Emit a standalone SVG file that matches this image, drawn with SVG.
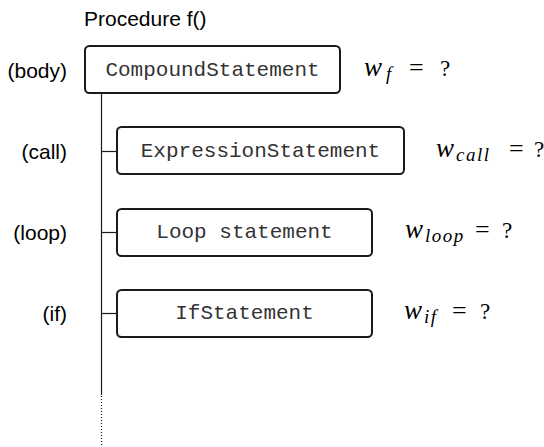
<svg xmlns="http://www.w3.org/2000/svg" width="544" height="447" viewBox="0 0 544 447">
  <style>
    .box { fill: #ffffff; stroke: #1a1a1a; stroke-width: 2; }
    .code { font-family: "Liberation Mono", "Courier New", monospace; font-size: 21px; fill: #333333; text-anchor: middle; }
    .role { font-family: "Liberation Sans", Arial, sans-serif; font-size: 21px; fill: #000000; text-anchor: end; }
    .title { font-family: "Liberation Sans", Arial, sans-serif; font-size: 21px; fill: #000000; }
    .w { font-family: "Liberation Serif", "Times New Roman", serif; font-style: italic; font-size: 27px; fill: #000000; }
    .sub { font-family: "Liberation Serif", "Times New Roman", serif; font-style: italic; font-size: 19px; letter-spacing: 1.5px; fill: #000000; }
    .eq { font-family: "Liberation Serif", "Times New Roman", serif; font-size: 26px; fill: #000000; }
    .q { font-family: "Liberation Serif", "Times New Roman", serif; font-size: 23px; fill: #000000; }
    .wire { stroke: #1a1a1a; stroke-width: 1.2; fill: none; }
    .dots { stroke: #1a1a1a; stroke-width: 1.2; stroke-dasharray: 1 2; fill: none; }
  </style>

  <text class="title" x="84" y="26">Procedure f()</text>

  <!-- tree spine and branches -->
  <g id="connectors">
    <line class="wire" x1="101.5" y1="93" x2="101.5" y2="395"/>
    <line class="dots" x1="101.5" y1="396" x2="101.5" y2="447"/>
    <line class="wire" x1="101.5" y1="151.5" x2="117" y2="151.5"/>
    <line class="wire" x1="101.5" y1="232.5" x2="117" y2="232.5"/>
    <line class="wire" x1="101.5" y1="313.5" x2="117" y2="313.5"/>
  </g>

  <g id="body">
    <text class="role" x="67" y="78">(body)</text>
    <rect class="box" x="85" y="46" width="255" height="47" rx="4.5"/>
    <text class="code" x="212.5" y="76">CompoundStatement</text>
    <text class="w" x="364" y="76">w</text>
    <text class="sub" x="386" y="80">f</text>
    <text class="eq" x="409" y="76">=</text>
    <text class="q" x="440" y="76">?</text>
  </g>

  <g id="call">
    <text class="role" x="67" y="159">(call)</text>
    <rect class="box" x="117" y="127" width="287" height="47" rx="4.5"/>
    <text class="code" x="260.5" y="157">ExpressionStatement</text>
    <text class="w" x="436" y="157">w</text>
    <text class="sub" x="456" y="161">call</text>
    <text class="eq" x="509" y="157">=</text>
    <text class="q" x="534" y="157">?</text>
  </g>

  <g id="loop">
    <text class="role" x="67" y="240">(loop)</text>
    <rect class="box" x="117" y="209" width="255" height="47" rx="4.5"/>
    <text class="code" x="244.5" y="238">Loop statement</text>
    <text class="w" x="405" y="238">w</text>
    <text class="sub" x="425" y="242">loop</text>
    <text class="eq" x="475" y="238">=</text>
    <text class="q" x="502" y="238">?</text>
  </g>

  <g id="if">
    <text class="role" x="67" y="321">(if)</text>
    <rect class="box" x="117" y="290" width="255" height="47" rx="4.5"/>
    <text class="code" x="244.5" y="319">IfStatement</text>
    <text class="w" x="404" y="319">w</text>
    <text class="sub" x="424" y="323">if</text>
    <text class="eq" x="452" y="319">=</text>
    <text class="q" x="480" y="319">?</text>
  </g>
</svg>
